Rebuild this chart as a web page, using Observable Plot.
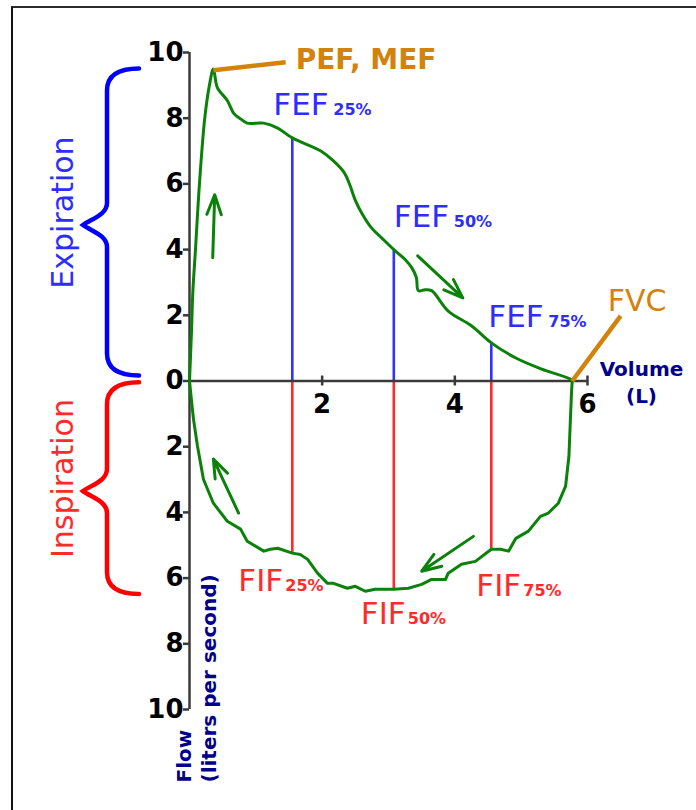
<!DOCTYPE html>
<html><head><meta charset="utf-8">
<script src="https://cdn.jsdelivr.net/npm/d3@7"></script>
<script src="https://cdn.jsdelivr.net/npm/@observablehq/plot@0.6"></script>
<style>
html,body{margin:0;padding:0;background:#fff;}
#wrap{position:relative;width:696px;height:810px;overflow:hidden;}
#frame{position:absolute;left:11px;top:6px;width:720px;height:840px;border-top:2px solid #2a2a2a;border-left:2px solid #111;pointer-events:none;}
#chart svg{display:block;}
</style></head><body>
<div id="wrap"><div id="chart"></div><div id="frame"></div></div>
<script>
// ---- data (volume in L, flow in L/s; inspiration negative) ----
const expVolume = [0,0.03,0.05,0.09,0.15,0.23,0.3,0.36,0.42,0.57,0.67,0.77,0.87,1.12,1.33,1.55,1.98,2.17,2.33,2.42,2.5,2.6,2.74,2.9,3.08,3.25,3.35,3.42,3.45,3.55,3.65,3.9,4.25,4.55,4.92,5.3,5.74,5.77];
const expFlow   = [0,1.5,2.7,4.0,6.0,8.0,9.0,9.5,8.93,8.54,8.14,7.98,7.85,7.85,7.7,7.4,7.0,6.7,6.35,5.95,5.5,5.1,4.67,4.35,4.0,3.7,3.45,3.15,2.75,2.78,2.75,2.13,1.68,1.16,0.7,0.37,0.06,0];
const inspVolume = [5.76,5.74,5.72,5.67,5.56,5.41,5.29,5.11,4.92,4.81,4.69,4.55,4.31,4.1,3.9,3.86,3.65,3.5,3.3,3.08,2.8,2.65,2.5,2.38,2.17,2.08,1.93,1.78,1.67,1.55,1.33,1.22,1.12,0.87,0.77,0.57,0.36,0.21,0.12,0.06,0.02,0];
const inspFlow   = [-0.3,-1.28,-2.29,-3.2,-3.72,-4.02,-4.12,-4.57,-4.79,-5.18,-5.12,-5.12,-5.49,-5.58,-5.85,-6.04,-6.04,-6.19,-6.31,-6.34,-6.34,-6.4,-6.25,-6.31,-6.16,-6.16,-5.85,-5.43,-5.28,-5.24,-5.09,-5.12,-5.18,-4.88,-4.51,-4.27,-3.72,-2.99,-1.98,-1.16,-0.4,0];

const measureNames  = ["25%","50%","75%"];
const measureVolume = [1.55, 3.08, 4.55];
const fefFlow = [7.4, 4.0, 1.18];
const fifFlow = [-5.24, -6.34, -5.12];

const xTicks = [2, 4, 6];
const yTicks = [-10,-8,-6,-4,-2,0,2,4,6,8,10];

const pefPoint = [0.36, 9.46];  const pefLabelEnd = [1.45, 9.7];
const fvcPoint = [5.77, 0];     const fvcLabelEnd = [6.5, 1.98];

const arrowVolumeFrom = [0.35, 3.44, 4.28, 0.74];
const arrowFlowFrom   = [3.75, 3.81, -4.73, -4.02];
const arrowVolumeTo   = [0.38, 4.12, 3.5, 0.36];
const arrowFlowTo     = [5.67, 2.53, -5.79, -2.38];

const phaseNames  = ["Expiration", "Inspiration"];
const phaseTop    = [9.5, -0.05];
const phaseBottom = [0.15, -6.5];

// ---- tables ----
const expiration = expVolume.map((v,i)=>({volume:v, flow:expFlow[i]}));
const inspiration = [{volume: expVolume[expVolume.length-1], flow: expFlow[expFlow.length-1]},
                     ...inspVolume.map((v,i)=>({volume:v, flow:inspFlow[i]}))];
const fef = measureNames.map((n,i)=>({name:n, volume:measureVolume[i], flow:fefFlow[i]}));
const fif = measureNames.map((n,i)=>({name:n, volume:measureVolume[i], flow:fifFlow[i]}));
const arrows = arrowVolumeFrom.map((v,i)=>({x1:v, y1:arrowFlowFrom[i], x2:arrowVolumeTo[i], y2:arrowFlowTo[i]}));
const phases = phaseNames.map((n,i)=>({name:n, top:phaseTop[i], bottom:phaseBottom[i]}));
const callouts = [{x1:pefPoint[0], y1:pefPoint[1], x2:pefLabelEnd[0], y2:pefLabelEnd[1]},
                  {x1:fvcPoint[0], y1:fvcPoint[1], x2:fvcLabelEnd[0], y2:fvcLabelEnd[1]}];

// ---- styles / layout ----
const FONT = "DejaVu Sans, Verdana, sans-serif";
const GREEN = "#0a820a", BLUE_LINE = "#3333ff", BLUE_TEXT = "#2d2dff", BRACE_BLUE = "#0000ff";
const RED = "#ff2a2a", BRACE_RED = "#ff0000", ORANGE = "#d3820c", NAVY = "#00008b", AXIS = "#3a3a3a";
const fefDx = [-19, 0, -3], fefDy = [-23, -23, -15];
const fifDx = [-54, -33, -15], fifDy = [38, 35, 47];
const braceColor = [BRACE_BLUE, BRACE_RED];
const phaseColor = [BLUE_TEXT, RED];

function braces(index, scales) {
  const g = d3.create("svg:g");
  const x0 = scales.x(0);
  phases.forEach((p, i) => {
    const xv = x0 - 82, xe = x0 - 50, xt = x0 - 106;
    const y0 = scales.y(p.top), y1 = scales.y(p.bottom), ym = (y0 + y1) / 2 + 3;
    const d = `M${xe},${y0} C${xe-20},${y0} ${xv},${y0+6} ${xv},${y0+22} L${xv},${ym-22} ` +
              `C${xv},${ym-10} ${xt+8},${ym-6} ${xt},${ym} C${xt+8},${ym+6} ${xv},${ym+10} ${xv},${ym+22} ` +
              `L${xv},${y1-22} C${xv},${y1-6} ${xe-20},${y1} ${xe},${y1}`;
    g.append("path").attr("d", d).attr("fill", "none").attr("stroke", braceColor[i])
      .attr("stroke-width", 4.5).attr("stroke-linecap", "round");
  });
  return g.node();
}

// FEF / FIF labels with subscripts (one text mark per label so each gets its own offset)
function measureLabels(rows, main, dxs, dys, color, subOffset) {
  return rows.flatMap((r, i) => [
    Plot.text([r], {x: "volume", y: "flow", text: () => main, textAnchor: "start", lineAnchor: "bottom",
      dx: dxs[i], dy: dys[i], fontSize: 31, fill: color}),
    Plot.text([r], {x: "volume", y: "flow", text: "name", textAnchor: "start", lineAnchor: "bottom",
      dx: dxs[i] + subOffset, dy: dys[i], fontSize: 16, fontWeight: "bold", fill: color})
  ]);
}

const chart = Plot.plot({
  width: 696, height: 810,
  marginLeft: 189, marginRight: 109, marginTop: 52, marginBottom: 101,
  x: {domain: [0, 6], axis: null},
  y: {domain: [-10, 10], axis: null},
  style: {fontFamily: FONT, background: "transparent", overflow: "visible"},
  marks: [
    Plot.ruleX(fef, {x: "volume", y1: 0, y2: "flow", stroke: BLUE_LINE, strokeWidth: 2.6}),
    Plot.ruleX(fif, {x: "volume", y1: 0, y2: "flow", stroke: RED, strokeWidth: 2.6}),
    Plot.ruleX([0], {y1: -10, y2: 10, stroke: AXIS, strokeWidth: 2.5}),
    Plot.ruleY(yTicks, {y: d => d, x1: 0, x2: 0, insetLeft: -6, stroke: AXIS, strokeWidth: 2.5}),
    Plot.ruleY([0], {x1: 0, x2: 6, stroke: AXIS, strokeWidth: 2.5}),
    Plot.ruleX(xTicks, {x: d => d, y1: 0, y2: 0, insetTop: -5, insetBottom: -5, stroke: AXIS, strokeWidth: 2.5}),
    Plot.text(yTicks, {x: 0, y: d => d, text: d => String(Math.abs(d)), textAnchor: "end", dx: -6,
      fontSize: 26, fontWeight: "bold", fill: "#000"}),
    Plot.text(xTicks, {x: d => d, y: 0, text: d => String(d), textAnchor: "middle", lineAnchor: "bottom", dy: 32,
      fontSize: 26, fontWeight: "bold", fill: "#000"}),
    Plot.line(expiration, {x: "volume", y: "flow", stroke: GREEN, strokeWidth: 3, strokeLinejoin: "round", curve: "catmull-rom"}),
    Plot.line(inspiration, {x: "volume", y: "flow", stroke: GREEN, strokeWidth: 3, strokeLinejoin: "round"}),
    Plot.arrow(arrows, {x1: "x1", y1: "y1", x2: "x2", y2: "y2", stroke: GREEN, strokeWidth: 3, headLength: 11, headAngle: 40}),
    Plot.link(callouts, {x1: "x1", y1: "y1", x2: "x2", y2: "y2", stroke: ORANGE, strokeWidth: 4.5}),
    Plot.text(["PEF, MEF"], {x: pefLabelEnd[0], y: pefLabelEnd[1], text: d => d, textAnchor: "start", lineAnchor: "bottom",
      dx: 10, dy: 7, fontSize: 28, fontWeight: "bold", fill: ORANGE}),
    Plot.text(["FVC"], {x: fvcLabelEnd[0], y: fvcLabelEnd[1], text: d => d, textAnchor: "start", lineAnchor: "bottom",
      dx: -13, dy: -5, fontSize: 30, fill: ORANGE}),
    ...measureLabels(fef, "FEF", fefDx, fefDy, BLUE_TEXT, 60),
    ...measureLabels(fif, "FIF", fifDx, fifDy, RED, 47),
    Plot.text(["Volume\n(L)"], {x: 6, y: 0, text: d => d, textAnchor: "middle", lineAnchor: "bottom", lineHeight: 1.35,
      dx: 54, dy: 22, fontSize: 20, fontWeight: "bold", fill: NAVY}),
    Plot.text(["Flow"], {x: 0, y: -10, text: d => d, rotate: -90, textAnchor: "start", lineAnchor: "bottom",
      dx: 1, dy: 73, fontSize: 20, fontWeight: "bold", fill: NAVY}),
    Plot.text(["(liters per second)"], {x: 0, y: -10, text: d => d, rotate: -90, textAnchor: "start", lineAnchor: "bottom",
      dx: 26, dy: 73, fontSize: 20, fontWeight: "bold", fill: NAVY}),
    braces,
    ...phases.map((p, i) => Plot.text([p], {x: 0, y: d => (d.top + d.bottom) / 2, text: "name", rotate: -90,
      textAnchor: "middle", lineAnchor: "bottom", dx: -117, dy: -10, fontSize: 30, fill: phaseColor[i]}))
  ]
});
document.getElementById("chart").append(chart);
</script></body></html>
